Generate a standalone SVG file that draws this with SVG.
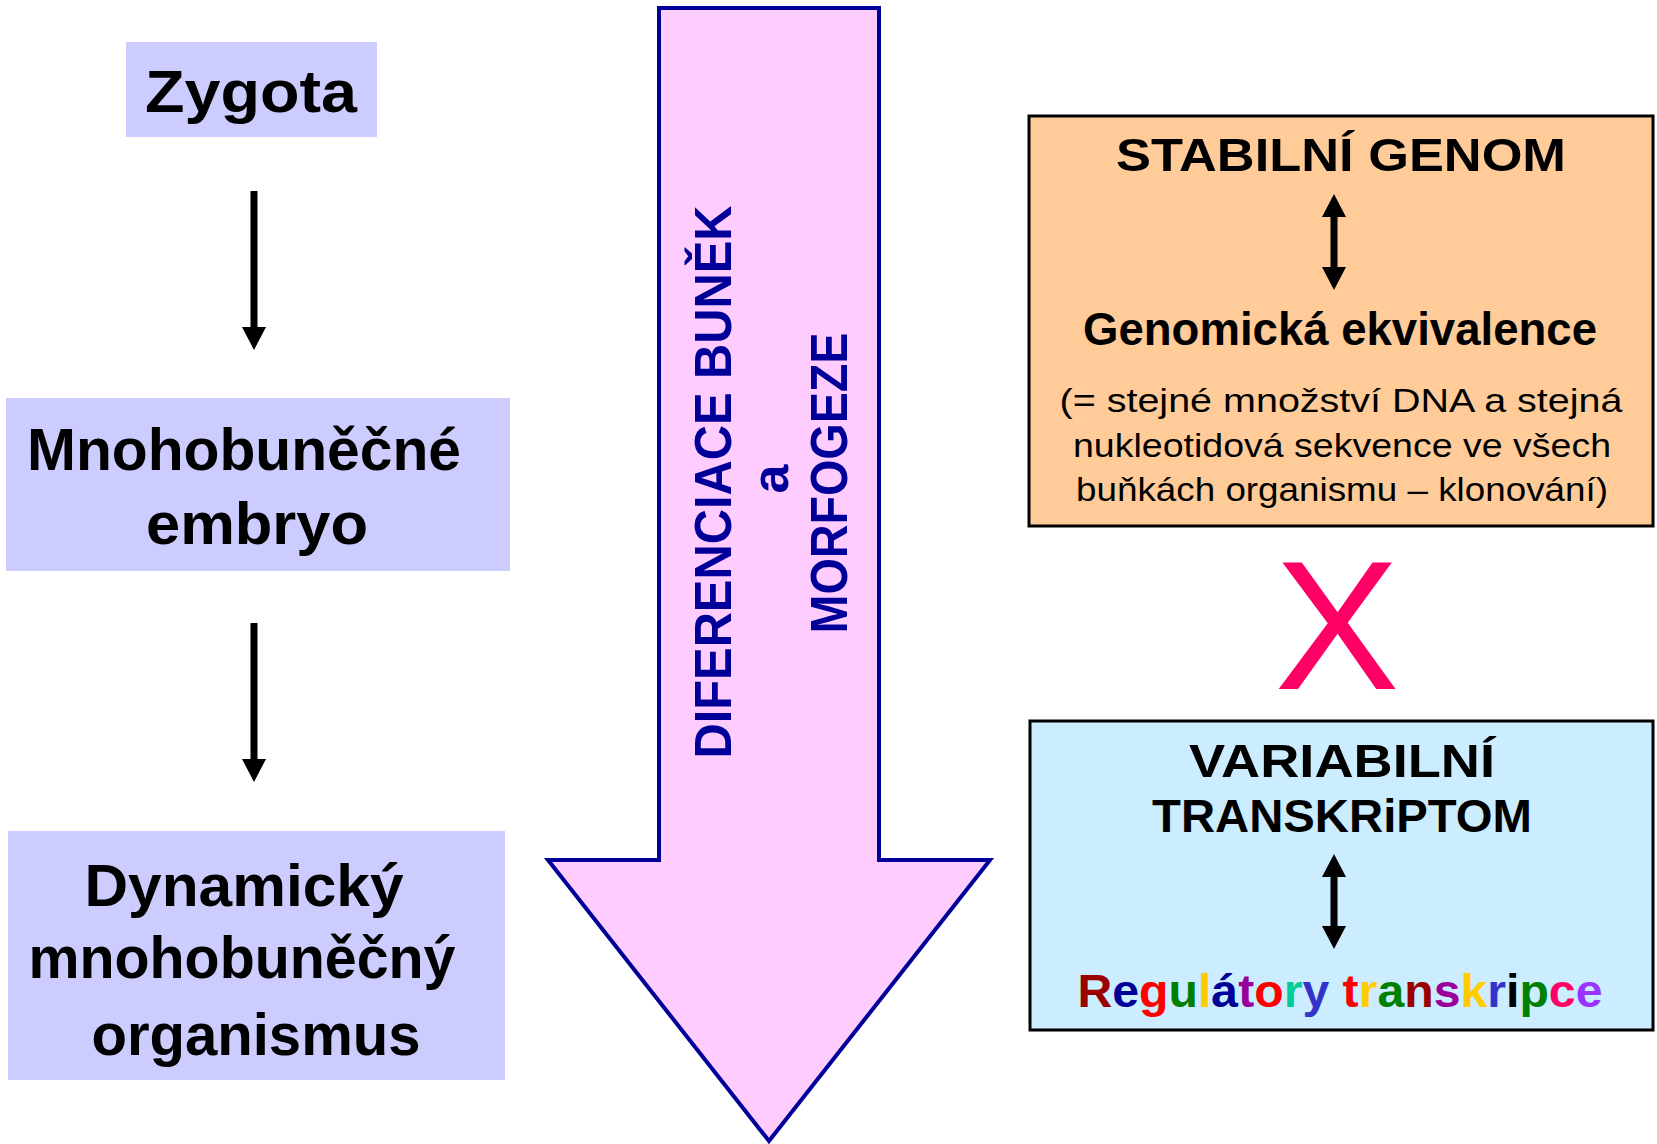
<svg xmlns="http://www.w3.org/2000/svg" width="1657" height="1144" viewBox="0 0 1657 1144">
  <style>
    .box { fill: #CCCCFF; }
    .big { font-family: "Liberation Sans", Arial, sans-serif; font-weight: bold; font-size: 60px; fill: #000; text-anchor: middle; }
    .hd { font-family: "Liberation Sans", Arial, sans-serif; font-weight: bold; font-size: 46px; fill: #000; text-anchor: middle; }
    .para { font-family: "Liberation Sans", Arial, sans-serif; font-size: 33px; fill: #000; text-anchor: middle; }
    .rot { font-family: "Liberation Sans", Arial, sans-serif; font-weight: bold; font-size: 52px; fill: #000099; text-anchor: middle; }
    .conn { stroke: #000; stroke-width: 7; fill: none; }
  </style>
  <defs>
    <marker id="ah" markerUnits="userSpaceOnUse" markerWidth="24" markerHeight="24" refX="0" refY="12" orient="auto-start-reverse" viewBox="0 0 24 24">
      <path d="M0,0 L23,12 L0,24 z" fill="#000"/>
    </marker>
  </defs>

  <g id="zygota">
    <rect class="box" x="126" y="42" width="251" height="95"/>
    <text class="big" x="251" y="112" textLength="212" lengthAdjust="spacingAndGlyphs">Zygota</text>
  </g>

  <g id="embryo">
    <rect class="box" x="6" y="398" width="504" height="173"/>
    <text class="big" x="244" y="470" textLength="434" lengthAdjust="spacingAndGlyphs">Mnohobuněčné</text>
    <text class="big" x="257" y="544" textLength="222" lengthAdjust="spacingAndGlyphs">embryo</text>
  </g>

  <g id="organismus">
    <rect class="box" x="8" y="831" width="497" height="249"/>
    <text class="big" x="244" y="906" textLength="319" lengthAdjust="spacingAndGlyphs">Dynamický</text>
    <text class="big" x="242" y="978" textLength="427" lengthAdjust="spacingAndGlyphs">mnohobuněčný</text>
    <text class="big" x="256" y="1055" textLength="329" lengthAdjust="spacingAndGlyphs">organismus</text>
  </g>

  <g id="diferenciace">
    <polygon points="659,8 879,8 879,860 990,860 769,1141 548,860 659,860" fill="#FFCCFF" stroke="#000099" stroke-width="4" stroke-linejoin="miter"/>
    <text class="rot" transform="translate(731,482) rotate(-90)" x="0" y="0" textLength="553" lengthAdjust="spacingAndGlyphs">DIFERENCIACE BUNĚK</text>
    <text class="rot" transform="translate(788,479) rotate(-90)" x="0" y="0">a</text>
    <text class="rot" transform="translate(847,483) rotate(-90)" x="0" y="0" textLength="301" lengthAdjust="spacingAndGlyphs">MORFOGEZE</text>
  </g>

  <g id="stabilni-genom">
    <rect x="1029" y="116" width="624" height="410" fill="#FFCC99" stroke="#000" stroke-width="3"/>
    <text class="hd" x="1341" y="171" textLength="450" lengthAdjust="spacingAndGlyphs">STABILNÍ GENOM</text>
    <text class="hd" x="1340" y="345" textLength="514" lengthAdjust="spacingAndGlyphs">Genomická ekvivalence</text>
    <text class="para" x="1341" y="412" textLength="563" lengthAdjust="spacingAndGlyphs">(= stejné množství DNA a stejná</text>
    <text class="para" x="1342" y="457" textLength="538" lengthAdjust="spacingAndGlyphs">nukleotidová sekvence ve všech</text>
    <text class="para" x="1342" y="501" textLength="532" lengthAdjust="spacingAndGlyphs">buňkách organismu – klonování)</text>
  </g>

  <g id="cross">
    <text x="1337" y="689" font-family="Liberation Sans, Arial, sans-serif" font-size="184" fill="#FF0066" text-anchor="middle" textLength="125" lengthAdjust="spacingAndGlyphs">X</text>
  </g>

  <g id="variabilni-transkriptom">
    <rect x="1030" y="721" width="623" height="309" fill="#CCECFF" stroke="#000" stroke-width="3"/>
    <text class="hd" x="1342" y="777" textLength="306" lengthAdjust="spacingAndGlyphs">VARIABILNÍ</text>
    <text class="hd" x="1342" y="832" textLength="380" lengthAdjust="spacingAndGlyphs">TRANSKRiPTOM</text>
    <text class="hd" x="1340" y="1007" textLength="525" lengthAdjust="spacingAndGlyphs"><tspan fill="#990000">R</tspan><tspan fill="#000099">e</tspan><tspan fill="#FF0000">g</tspan><tspan fill="#008000">u</tspan><tspan fill="#FFCC00">l</tspan><tspan fill="#000099">á</tspan><tspan fill="#990099">t</tspan><tspan fill="#FF0000">o</tspan><tspan fill="#00CC99">r</tspan><tspan fill="#3333CC">y</tspan> <tspan fill="#FF0000">t</tspan><tspan fill="#FFCC00">r</tspan><tspan fill="#008000">a</tspan><tspan fill="#990000">n</tspan><tspan fill="#990099">s</tspan><tspan fill="#FFCC00">k</tspan><tspan fill="#3333CC">r</tspan><tspan fill="#000000">i</tspan><tspan fill="#008000">p</tspan><tspan fill="#FF0066">c</tspan><tspan fill="#9933FF">e</tspan></text>
  </g>

  <g id="connectors">
    <line class="conn" x1="254" y1="191" x2="254" y2="327" marker-end="url(#ah)"/>
    <line class="conn" x1="254" y1="623" x2="254" y2="759" marker-end="url(#ah)"/>
    <line class="conn" x1="1334" y1="217" x2="1334" y2="267" marker-start="url(#ah)" marker-end="url(#ah)"/>
    <line class="conn" x1="1334" y1="877" x2="1334" y2="926" marker-start="url(#ah)" marker-end="url(#ah)"/>
  </g>
</svg>
